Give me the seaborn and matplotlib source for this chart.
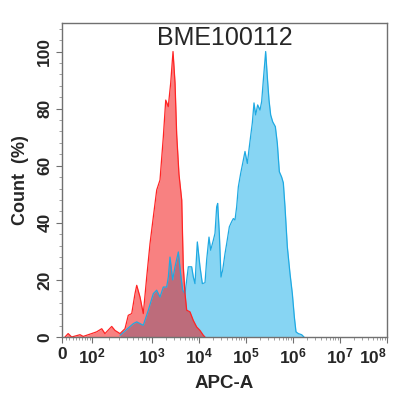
import numpy as np
import matplotlib
matplotlib.use("Agg")
import matplotlib.pyplot as plt
import seaborn as sns
from matplotlib.ticker import FixedLocator, MultipleLocator

# ---- data (APC-A value, Count %) ----
red_x = [8.2, 17, 27, 53, 64, 98, 122, 151, 172, 224, 254, 307, 370, 418, 475,
         536, 571, 644, 727, 824, 930, 1066, 1260, 1480, 1740, 1960, 2220, 2500,
         2800, 3090, 3350, 3750, 4290, 4630, 5040, 5470, 6430, 7560, 8930,
         10500, 12350, 13400]
red_y = [0, 1.2, 0, 0.8, 0.2, 1.2, 1.8, 2.9, 1.2, 3.7, 2.3, 1.2, 2.9, 7.6, 8.2,
         15.2, 18.1, 14, 8.2, 21, 32.7, 42, 51.5, 55, 70, 83, 80.7, 89,
         100, 89, 71, 57, 48, 24.6, 15.2, 9.4, 8.8, 5.8, 3.5,
         2.3, 0.6, 0]

blue_x = [307, 505, 571, 727, 874, 1067, 1257, 1480, 1741, 2051, 2226, 2415,
          2753, 3086, 3634, 4073, 4493, 5036, 5930, 6980, 7575, 8220, 9215,
          10500, 11780, 13420, 14560, 16320, 17710, 20180, 21890, 23760, 24960,
          27080, 29380, 31880, 35750, 38800, 44200, 49550, 53770, 58340, 63300,
          68700, 77000, 87800, 95200, 106800, 117800, 136300, 148000, 160600,
          177100, 198600, 215400, 233800, 262000, 284400, 308600, 334900,
          369400, 421000, 464200, 512000, 574000, 622700, 675700, 757500,
          863500, 967800, 1067600, 1158000, 1299000, 1529000, 1714000]
blue_y = [0.6, 4.7, 5.3, 4.1, 9.4, 15.2, 16.4, 14, 17.5, 17.5, 21, 28,
          20, 24.6, 29.8, 22, 16.4, 15.2, 24.6, 24.6, 21, 18.7, 33.3,
          24.6, 18.7, 19, 27, 35, 30.4, 33.9, 36.3, 45.6, 46.8,
          36.3, 21, 23.4, 29.2, 32.7, 38.6, 40.4, 41.5, 41, 45.6,
          52.6, 57.3, 62, 65, 60.8, 66.7, 75, 82, 77.8,
          81.3, 79.5, 82.5, 90, 100, 91, 83, 77.8,
          75.4, 73.7, 67.8, 57.9, 56, 54, 45.6, 31.6,
          22.2, 15.2, 7, 1.8, 1.2, 0.8, 0]

x_ticks = [0, 1e2, 1e3, 1e4, 1e5, 1e6, 1e7, 1e8]
x_labels = ["0", "$10^{2}$", "$10^{3}$", "$10^{4}$", "$10^{5}$", "$10^{6}$",
            "$10^{7}$", "$10^{8}$"]
y_ticks = [0, 20, 40, 60, 80, 100]


# biexponential-like display: near-linear below 10^3, log above
LIN_W = 75.0
K = np.arcsinh(1000 / LIN_W)


def fwd(x):
    x = np.asarray(x, dtype=float)
    lo = 90 * np.arcsinh(x / LIN_W) / K
    hi = 90 + 47 * np.log10(np.maximum(x, 1e-9) / 1000)
    return np.where(x < 1000, lo, hi)


def inv(p):
    p = np.clip(np.asarray(p, dtype=float), -500, 600)
    lo = LIN_W * np.sinh(np.minimum(p, 90) / 90 * K)
    hi = 1000 * 10 ** ((np.maximum(p, 90) - 90) / 47)
    return np.where(p < 90, lo, hi)


sns.set_style("ticks")
plt.rcParams["font.family"] = ["Liberation Sans", "DejaVu Sans"]
plt.rcParams["mathtext.fontset"] = "custom"
plt.rcParams["mathtext.rm"] = "Liberation Sans:bold"
plt.rcParams["mathtext.bf"] = "Liberation Sans:bold"
plt.rcParams["mathtext.default"] = "bf"

fig = plt.figure(figsize=(3.98, 4.0), dpi=100)
ax = fig.add_axes([62 / 398, 63 / 400, 325 / 398, 314 / 400])
ax.set_xscale("function", functions=(fwd, inv))

# blue sample first, red control drawn on top
ax.fill_between(blue_x, blue_y, 0, color="#10ADE8", alpha=0.5, linewidth=0)
sns.lineplot(x=blue_x, y=blue_y, ax=ax, color="#1FA9E2", linewidth=0.9,
             sort=False, estimator=None)
ax.fill_between(red_x, red_y, 0, color="#F30505", alpha=0.5, linewidth=0)
sns.lineplot(x=red_x, y=red_y, ax=ax, color="#FF2424", linewidth=0.9,
             sort=False, estimator=None)

ax.set_xlim(0, 1e8)
ax.set_ylim(0, 110)

ax.set_xticks(x_ticks)
ax.set_xticklabels(x_labels, fontsize=12.5)
minor = [m * 10 ** k for k in range(2, 8) for m in range(2, 10)] + \
        [10, 20, 30, 40, 50, 60, 70, 80, 90]
ax.xaxis.set_minor_locator(FixedLocator(minor))

ax.set_yticks(y_ticks)
ax.set_yticklabels([str(v) for v in y_ticks], fontsize=12.5,
                   fontweight="bold", rotation=90, va="center")
ax.yaxis.set_minor_locator(MultipleLocator(4))

xlabs = ax.get_xticklabels()
for lab in xlabs:
    lab.set_fontweight("bold")
# keep the last label inside the figure
xlabs[-1].set_horizontalalignment("right")

ax.tick_params(axis="both", which="major", length=4, width=0.8,
               color="#707070", pad=3)
ax.tick_params(axis="both", which="minor", length=2, width=0.6,
               color="#909090")
for sp in ax.spines.values():
    sp.set_visible(True)
    sp.set_color("#707070")
    sp.set_linewidth(1.0)

ax.set_xlabel("APC-A", fontsize=13.5, fontweight="bold", labelpad=6)
ax.set_ylabel("Count  (%)", fontsize=13, fontweight="bold", labelpad=6)
ax.text(0.5, 0.952, "BME100112", transform=ax.transAxes, ha="center",
        va="center", fontsize=18)

fig.savefig("out.png", dpi=100)
